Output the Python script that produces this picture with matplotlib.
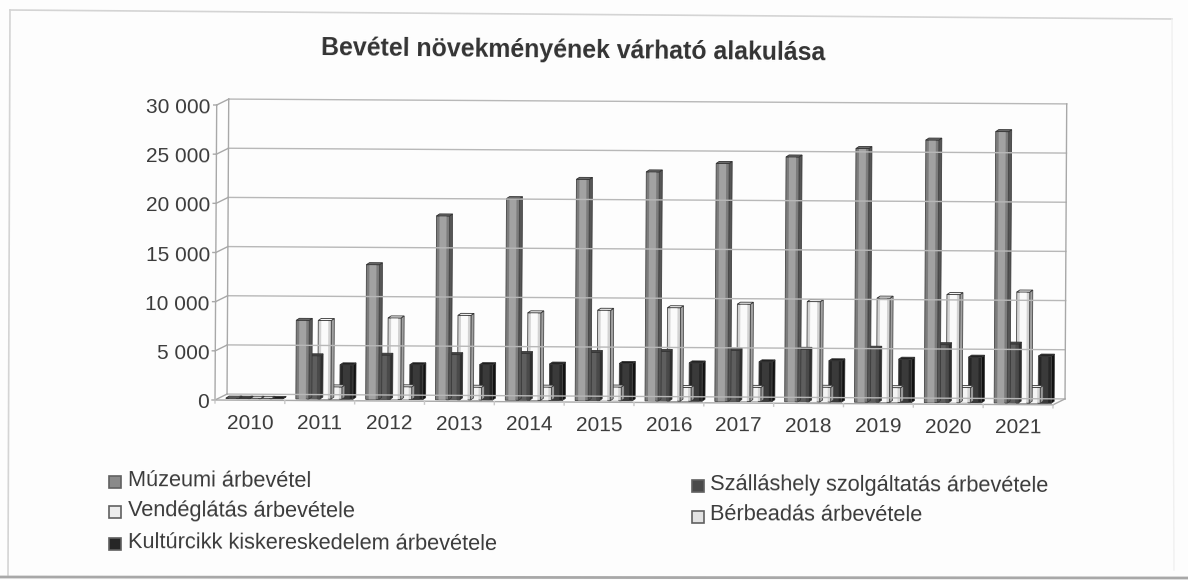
import matplotlib
matplotlib.use("Agg")
import matplotlib.pyplot as plt
from matplotlib.patches import Polygon, Rectangle
from matplotlib.transforms import Affine2D

plt.rcParams['font.family'] = ['Liberation Sans', 'DejaVu Sans']

# Adatok, az abrarol leolvasva
years = ['2010', '2011', '2012', '2013', '2014', '2015', '2016', '2017', '2018', '2019', '2020', '2021']
muzeum = [50, 8000, 13700, 18700, 20500, 22500, 23300, 24200, 24900, 25800, 26700, 27600]
szallas = [50, 4400, 4500, 4600, 4750, 4900, 5050, 5200, 5350, 5500, 5900, 6000]
vendeg = [50, 8000, 8300, 8600, 8900, 9200, 9500, 9900, 10200, 10600, 11000, 11300]
berbe = [50, 1250, 1300, 1300, 1350, 1400, 1400, 1450, 1500, 1500, 1550, 1600]
kultur = [50, 3500, 3550, 3600, 3700, 3800, 3900, 4050, 4200, 4400, 4650, 4800]
yticks = [0, 5000, 10000, 15000, 20000, 25000, 30000]
ytick_labels = ['0', '5 000', '10 000', '15 000', '20 000', '25 000', '30 000']
legend_labels = ['Múzeumi árbevétel', 'Vendéglátás árbevétele', 'Kultúrcikk kiskereskedelem árbevétele',
                 'Szálláshely szolgáltatás árbevétele', 'Bérbeadás árbevétele']

W, H = 1188, 580
TILT = -0.33

fig = plt.figure(figsize=(W / 100, H / 100), dpi=100, facecolor='#fdfdfd')

# keret
bg = fig.add_axes([0, 0, 1, 1])
bg.set_xlim(0, W)
bg.set_ylim(H, 0)
bg.axis('off')
bg.plot([10, 1172], [10, 19], color='#d4d4d4', lw=1.2)
bg.plot([10, 8], [10, 575], color='#d4d4d4', lw=1.2)
bg.plot([1172, 1174], [19, 570], color='#f0f0f0', lw=1)
bg.plot([0, 1188], [577, 578], color='#a8a8a8', lw=2)

# az "elso sik": 215..1053 px, 400 px az y=0
ax = fig.add_axes([215 / W, 1 - 400 / H, 838 / W, 295 / H])
ax.set_xlim(0, 12)
ax.set_ylim(0, 30000)
ax.axis('off')
ax.patch.set_alpha(0)

tilt = ax.transData + Affine2D().rotate_deg_around(215, H - 400, TILT)
px_x = 12 / 838
px_y = 30000 / 295
depth_x = 12 * px_x
depth_y = 6 * px_y

line = '#a8a8a8'
kw = dict(lw=1, transform=tilt, clip_on=False)
# racsvonalak es hatso fal
for t in yticks:
    ax.plot([depth_x, 12 + depth_x], [t + depth_y, t + depth_y], color='#b8b8b8', **kw)
    ax.plot([0, depth_x], [t, t + depth_y], color=line, **kw)
    ax.plot([-3 * px_x, 0], [t, t], color=line, **kw)
ax.plot([depth_x, depth_x], [depth_y, 30000 + depth_y], color=line, **kw)
ax.plot([0, 0], [0, 30000], color=line, **kw)
ax.plot([12 + depth_x, 12 + depth_x], [depth_y, 30000 + depth_y], color=line, **kw)
ax.plot([0, 12], [0, 0], color=line, **kw)
ax.plot([12, 12 + depth_x], [0, depth_y], color=line, **kw)
for i in range(13):
    ax.plot([i, i], [0, -3 * px_y], color='#c8c8c8', **kw)

# sorozatok hatulrol elore, hogy a Muzeum legyen legfelul
series = [
    (kultur, 4, '#262626', '#3a3a3a', '#111111', '#1c1c1c'),
    (berbe, 3, '#d6d6d6', '#f4f4f4', '#9a9a9a', '#eeeeee'),
    (vendeg, 2, '#d2d2d2', '#fafafa', '#a0a0a0', '#f6f6f6'),
    (szallas, 1, '#4a4a4a', '#5e5e5e', '#2e2e2e', '#444444'),
    (muzeum, 0, '#7c7c7c', '#a2a2a2', '#565656', '#6a6a6a'),
]
bar_w = 13 * px_x
bar_dx = 3 * px_x
bar_dy = 2 * px_y
for vals, k, edge_c, mid_c, side_c, top_c in series:
    xs = [i + (11 + k * 11) * px_x for i in range(len(years))]
    for x, v in zip(xs, vals):
        x0, x1 = x, x + bar_w
        y0 = 1.5 * px_y
        y1 = y0 + v
        side = [(x1, y0), (x1 + bar_dx, y0 + bar_dy), (x1 + bar_dx, y1 + bar_dy), (x1, y1)]
        top = [(x0, y1), (x1, y1), (x1 + bar_dx, y1 + bar_dy), (x0 + bar_dx, y1 + bar_dy)]
        ax.add_patch(Polygon(side, facecolor=side_c, edgecolor='#333333', lw=0.5, transform=tilt, clip_on=False))
        ax.bar(x0, v, bar_w, bottom=y0, align='edge', color=edge_c, edgecolor='#444444', lw=0.6, transform=tilt, clip_on=False)
        ax.bar(x0 + 3 * px_x, v, bar_w - 6 * px_x, bottom=y0, align='edge', color=mid_c, lw=0, transform=tilt, clip_on=False)
        ax.add_patch(Polygon(top, facecolor=top_c, edgecolor='#333333', lw=0.6, transform=tilt, clip_on=False))

txt = '#3a3a3a'
# tengelyfeliratok
for t, lab in zip(yticks, ytick_labels):
    ax.annotate(lab, (0, t), xycoords=tilt, xytext=(-6, -3), textcoords='offset pixels', ha='right', va='center',
                fontsize=15, color=txt, rotation=TILT, rotation_mode='anchor')
for i, lab in enumerate(years):
    ax.annotate(lab, (i + 0.5, 0), xycoords=tilt, xytext=(0, -23), textcoords='offset pixels', ha='center', va='center',
                fontsize=15, color=txt, rotation=TILT, rotation_mode='anchor')

fig.text(573 / W, 1 - 50.5 / H, 'Bevétel növekményének várható alakulása', ha='center', va='center',
         fontsize=17.9, fontweight='bold', color='#333333', rotation=-0.6, rotation_mode='anchor')

# jelmagyarazat
legend_box = [(115, 482), (115, 512), (115, 544), (697.5, 485.5), (697.5, 516.5)]
legend_text = [(128, 482), (128, 512), (128, 544), (710, 486), (710, 516)]
legend_face = ['#8a8a8a', '#ececec', '#262626', '#4a4a4a', '#e2e2e2']
for (bx, by), (tx, ty), lab, fc in zip(legend_box, legend_text, legend_labels, legend_face):
    bg.add_patch(Rectangle((bx - 6, by - 6), 12, 12, facecolor=fc, edgecolor='#606060', lw=1.2))
    bg.text(tx, ty - 1, lab, ha='left', va='center', fontsize=15.65, color=txt,
            rotation=TILT, rotation_mode='anchor')

fig.savefig('out.png', dpi=100, facecolor=fig.get_facecolor())
plt.close()
